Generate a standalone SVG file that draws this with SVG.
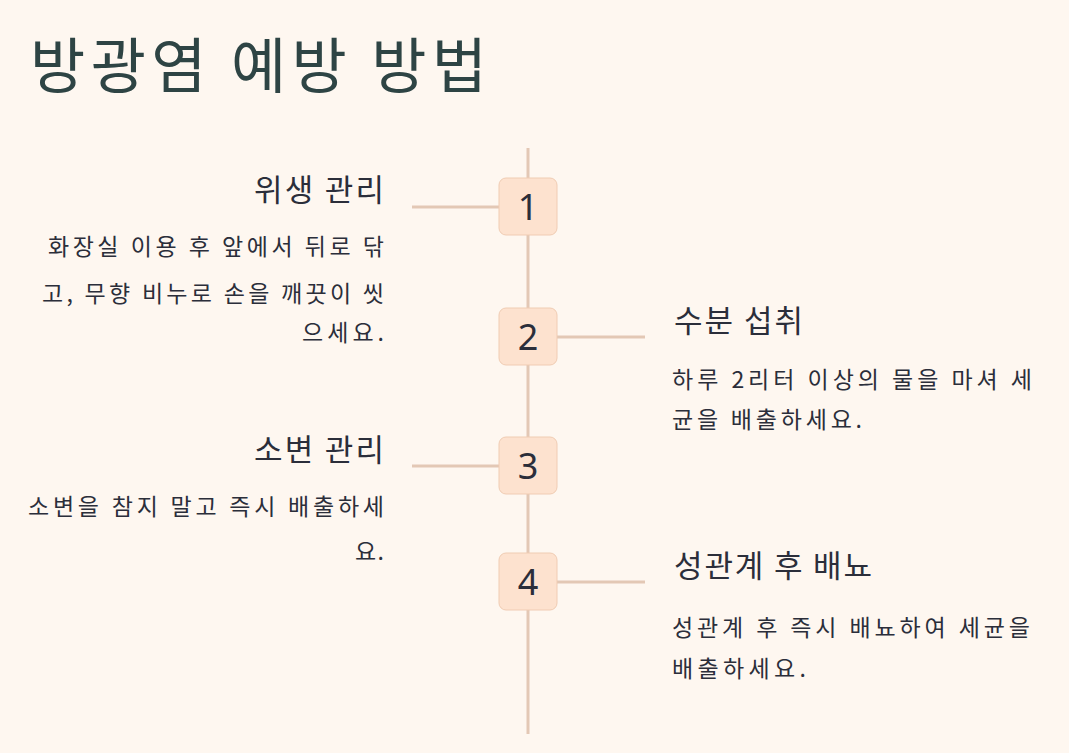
<svg xmlns="http://www.w3.org/2000/svg" width="1069" height="753" viewBox="0 0 1069 753">
<style>
text{font-family:"Noto Sans CJK KR","Noto Sans",sans-serif;fill:#2b2e3a}
.t{font-size:60px;fill:#2e4444}
.h{font-size:31px}
.b{font-size:23px}
.n{font-size:36px;text-anchor:middle;font-family:"Noto Sans",sans-serif}
.r{text-anchor:end}
.box{fill:#fde2cf;stroke:#f0ccb3;stroke-width:1}
.ln{stroke:#e3c8b5;stroke-width:3;fill:none}
</style>
<rect width="1069" height="753" fill="#fef7f0"/>
<text class="t" x="30" y="88" textLength="457" lengthAdjust="spacing">방광염 예방 방법</text>
<g id="connectors">
<line class="ln" x1="528" y1="148" x2="528" y2="734"/>
<line class="ln" x1="412" y1="207" x2="500" y2="207"/>
<line class="ln" x1="557" y1="337" x2="645" y2="337"/>
<line class="ln" x1="412" y1="466" x2="500" y2="466"/>
<line class="ln" x1="557" y1="582" x2="645" y2="582"/>
</g>
<g id="node1"><rect class="box" x="499" y="178" width="58" height="57" rx="7"/><text class="n" x="528" y="220">1</text>
<text class="h" x="254" y="201" textLength="130" lengthAdjust="spacing">위생 관리</text>
<text class="b" x="48" y="255" textLength="336" lengthAdjust="spacing">화장실 이용 후 앞에서 뒤로 닦</text>
<text class="b" x="42" y="302" textLength="342" lengthAdjust="spacing">고, 무향 비누로 손을 깨끗이 씻</text>
<text class="b" x="302" y="341" textLength="82" lengthAdjust="spacing">으세요.</text></g>
<g id="node2"><rect class="box" x="499" y="308" width="58" height="57" rx="7"/><text class="n" x="528" y="350">2</text>
<text class="h" x="674" y="332" textLength="129" lengthAdjust="spacing">수분 섭취</text>
<text class="b" x="672" y="388" textLength="360" lengthAdjust="spacing">하루 2리터 이상의 물을 마셔 세</text>
<text class="b" x="672" y="428" textLength="190" lengthAdjust="spacing">균을 배출하세요.</text></g>
<g id="node3"><rect class="box" x="499" y="437" width="58" height="57" rx="7"/><text class="n" x="528" y="479">3</text>
<text class="h" x="254" y="461" textLength="130" lengthAdjust="spacing">소변 관리</text>
<text class="b" x="28" y="515" textLength="356" lengthAdjust="spacing">소변을 참지 말고 즉시 배출하세</text>
<text class="b" x="355" y="560" textLength="29" lengthAdjust="spacing">요.</text></g>
<g id="node4"><rect class="box" x="499" y="553" width="58" height="57" rx="7"/><text class="n" x="528" y="595">4</text>
<text class="h" x="674" y="577" textLength="198" lengthAdjust="spacing">성관계 후 배뇨</text>
<text class="b" x="672" y="636" textLength="358" lengthAdjust="spacing">성관계 후 즉시 배뇨하여 세균을</text>
<text class="b" x="672" y="677" textLength="134" lengthAdjust="spacing">배출하세요.</text></g>
</svg>
